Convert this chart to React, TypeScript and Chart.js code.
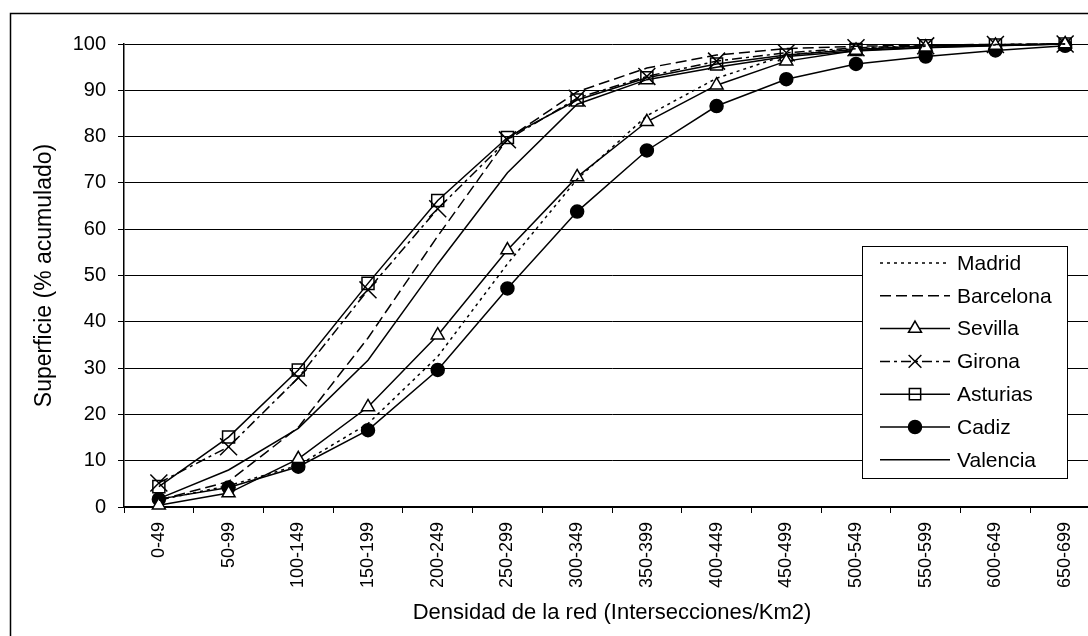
import React, { useEffect, useRef } from 'react';
import { Chart, registerables } from 'chart.js';
import { drawPoint } from 'chart.js/helpers';

Chart.register(...registerables);

const categories = ['0-49', '50-99', '100-149', '150-199', '200-249', '250-299', '300-349', '350-399', '400-449', '450-499', '500-549', '550-599', '600-649', '650-699'];
const madrid = [1.5, 4.6, 9.0, 18.0, 32.5, 52.5, 70.8, 84.5, 92.6, 97.6, 99.0, 99.5, 99.8, 100];
const barcelona = [1.5, 5.5, 17.2, 36.5, 58.5, 79.5, 89.7, 94.8, 97.6, 99.0, 99.5, 99.8, 99.9, 100];
const sevilla = [0.4, 3.0, 10.4, 21.6, 37.1, 55.5, 71.3, 83.2, 91.1, 96.3, 98.6, 99.3, 99.7, 100];
const girona = [5.2, 13.0, 27.9, 46.9, 64.4, 79.3, 88.3, 93.0, 96.3, 98.1, 99.2, 99.6, 99.9, 100];
const asturias = [4.4, 15.1, 29.6, 48.3, 66.2, 79.8, 87.9, 92.7, 95.7, 97.6, 98.8, 99.6, 99.8, 100];
const cadiz = [1.7, 4.2, 8.7, 16.6, 29.6, 47.2, 63.8, 77.0, 86.6, 92.4, 95.7, 97.3, 98.6, 99.6];
const valencia = [1.8, 8.0, 17.0, 31.7, 52.5, 72.2, 87.0, 92.3, 95.0, 97.3, 98.5, 99.2, 99.6, 100];

const yMin = 0;
const yMax = 100;
const yStep = 10;
const xTitle = 'Densidad de la red (Intersecciones/Km2)';
const yTitle = 'Superficie (% acumulado)';

const W = 1120;
const H = 636;
const FONT = '"Liberation Sans", Arial, sans-serif';

const legendRadius: Record<string, number> = { triangle: 7.5, crossRot: 9, rect: 8, circle: 6.5 };

const framePlugin = {
  id: 'frame',
  beforeDraw(chart: any) {
    const ctx = chart.ctx;
    ctx.save();
    ctx.fillStyle = '#fff';
    ctx.fillRect(0, 0, chart.width, chart.height);
    ctx.strokeStyle = '#000';
    ctx.lineWidth = 1.5;
    ctx.beginPath();
    ctx.moveTo(10.5, H + 5);
    ctx.lineTo(10.5, 13.5);
    ctx.lineTo(W + 5, 13.5);
    ctx.stroke();
    ctx.restore();
  },
};

const legendPlugin = {
  id: 'boxLegend',
  afterDatasetsDraw(chart: any) {
    const ctx = chart.ctx;
    ctx.save();
    const bx = 862.5, by = 246.5, bw = 205, bh = 232;
    ctx.fillStyle = '#fff';
    ctx.fillRect(bx, by, bw, bh);
    ctx.strokeStyle = '#000';
    ctx.lineWidth = 1;
    ctx.strokeRect(bx, by, bw, bh);
    chart.data.datasets.forEach((ds: any, i: number) => {
      const y = 263 + i * 32.8;
      ctx.beginPath();
      ctx.setLineDash(ds.borderDash || []);
      ctx.lineWidth = ds.borderWidth;
      ctx.strokeStyle = '#000';
      ctx.moveTo(880, y);
      ctx.lineTo(950, y);
      ctx.stroke();
      ctx.setLineDash([]);
      if (ds.pointRadius > 0) {
        ctx.fillStyle = ds.pointBackgroundColor;
        ctx.strokeStyle = '#000';
        ctx.lineWidth = ds.pointBorderWidth;
        drawPoint(ctx, { pointStyle: ds.pointStyle, rotation: 0, radius: legendRadius[ds.pointStyle], borderWidth: ds.pointBorderWidth }, 915, y);
      }
      ctx.fillStyle = '#000';
      ctx.font = `21px ${FONT}`;
      ctx.textBaseline = 'middle';
      ctx.textAlign = 'left';
      ctx.fillText(ds.label, 957, y + 1);
    });
    ctx.restore();
  },
};

export default function App() {
  const ref = useRef<HTMLCanvasElement>(null);
  useEffect(() => {
    const base = { borderColor: '#000', borderWidth: 1.5, tension: 0, fill: false, clip: false as any, pointBorderColor: '#000', pointBorderWidth: 1.5 };
    const chart = new Chart(ref.current as HTMLCanvasElement, {
      type: 'line',
      data: {
        labels: categories,
        datasets: [
          { ...base, label: 'Madrid', data: madrid, borderDash: [3, 4], pointRadius: 0 },
          { ...base, label: 'Barcelona', data: barcelona, borderDash: [11, 5], pointRadius: 0 },
          { ...base, label: 'Sevilla', data: sevilla, borderDash: [], pointStyle: 'triangle', pointRadius: 7.5, pointBackgroundColor: '#fff' },
          { ...base, label: 'Girona', data: girona, borderDash: [10, 4, 3, 4], pointStyle: 'crossRot', pointRadius: 12, pointBackgroundColor: '#000' },
          { ...base, label: 'Asturias', data: asturias, borderDash: [], pointStyle: 'rect', pointRadius: 8.5, pointBackgroundColor: 'rgba(0,0,0,0)' },
          { ...base, label: 'Cadiz', data: cadiz, borderDash: [], pointStyle: 'circle', pointRadius: 6.5, pointBackgroundColor: '#000' },
          { ...base, label: 'Valencia', data: valencia, borderDash: [], pointRadius: 0 },
        ] as any,
      },
      options: {
        responsive: false,
        animation: false,
        events: [],
        layout: { padding: { left: 0, top: 44, right: 20, bottom: 0 } },
        plugins: { legend: { display: false }, tooltip: { enabled: false }, title: { display: false } },
        scales: {
          x: {
            type: 'category',
            offset: true,
            grid: { display: true, drawOnChartArea: false, drawTicks: true, tickLength: 6, color: '#000', offset: true, lineWidth: 1 },
            border: { display: true, color: '#000', width: 1.5 },
            ticks: { minRotation: 90, maxRotation: 90, autoSkip: false, padding: 9, color: '#000', font: { family: FONT, size: 18 } },
            title: { display: true, text: xTitle, color: '#000', font: { family: FONT, size: 22 }, padding: { top: 0, bottom: 10 } },
            afterFit: (s: any) => { s.height = H - 507; },
          },
          y: {
            min: yMin,
            max: yMax,
            grid: { color: '#000', lineWidth: 1, drawTicks: true, tickLength: 6 },
            border: { display: true, color: '#000', width: 1.5 },
            ticks: { stepSize: yStep, padding: 12, color: '#000', font: { family: FONT, size: 20 } },
            title: { display: true, text: yTitle, color: '#000', font: { family: FONT, size: 23 }, padding: { top: 31, bottom: 0 } },
            afterFit: (s: any) => { s.width = 124; },
          },
        },
      },
      plugins: [framePlugin, legendPlugin],
    });
    return () => chart.destroy();
  }, []);
  return (
    <div style={{ position: 'absolute', left: 0, top: 0, width: 1088, height: 636, overflow: 'hidden', background: '#fff' }}>
      <canvas ref={ref} width={W} height={H} style={{ width: W, height: H, display: 'block' }} />
    </div>
  );
}
